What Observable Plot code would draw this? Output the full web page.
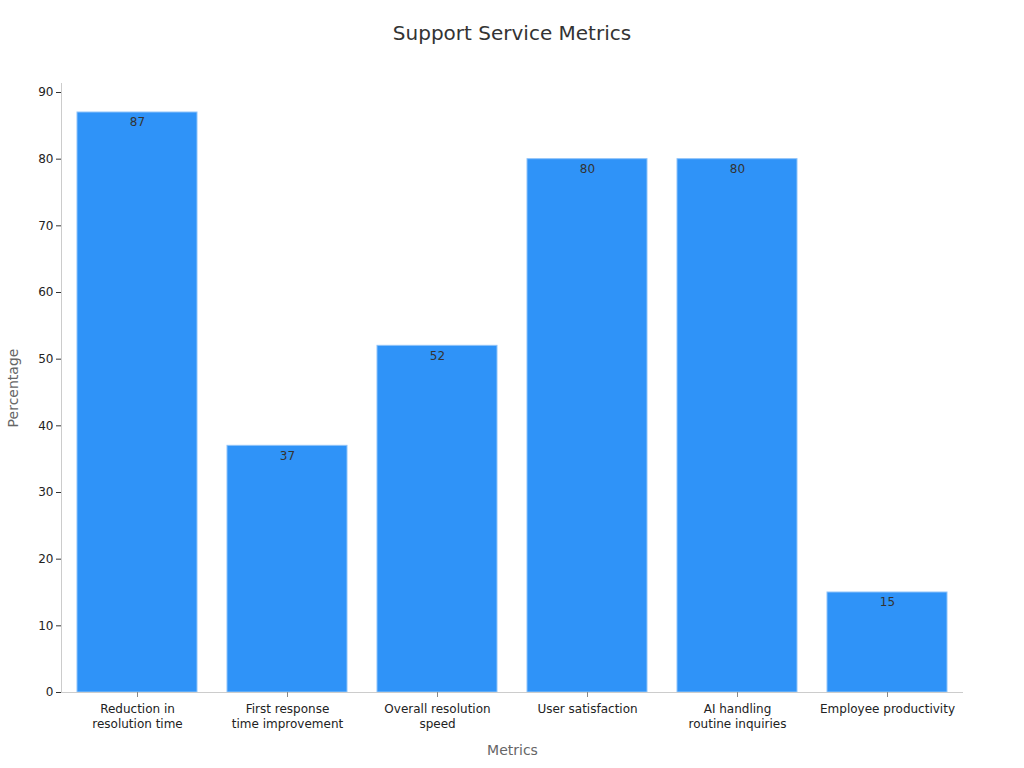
<!DOCTYPE html>
<html>
<head>
<meta charset="utf-8">
<script src="https://cdn.jsdelivr.net/npm/d3@7"></script>
<script src="https://cdn.jsdelivr.net/npm/@observablehq/plot@0.6"></script>
<style>
  html, body { margin: 0; padding: 0; background: #fff; }
  body { width: 1024px; height: 768px; overflow: hidden; font-family: "DejaVu Sans", sans-serif; }
  #title { height: 68px; line-height: 66px; text-align: center; font-size: 20px; color: #333; }
  #chart svg { display: block; }
</style>
</head>
<body>
<div id="title">Support Service Metrics</div>
<div id="chart"></div>
<script>
const categories = ["Reduction in resolution time", "First response time improvement", "Overall resolution speed", "User satisfaction", "AI handling routine inquiries", "Employee productivity"];
const tickLabels = ["Reduction in\nresolution time", "First response\ntime improvement", "Overall resolution\nspeed", "User satisfaction", "AI handling\nroutine inquiries", "Employee productivity"];
const values = [87, 37, 52, 80, 80, 15];
const yTicks = [0, 10, 20, 30, 40, 50, 60, 70, 80, 90];

const data = categories.map((c, i) => ({category: c, value: values[i], label: tickLabels[i]}));
const labelOf = new Map(categories.map((c, i) => [c, tickLabels[i]]));

const chart = Plot.plot({
  width: 1024,
  height: 700,
  marginLeft: 61,
  marginRight: 61,
  marginTop: 15,
  marginBottom: 76,
  style: {fontFamily: "DejaVu Sans, sans-serif", fontSize: "12px", color: "#222", background: "#fff"},
  x: {domain: categories, paddingInner: 0.2, paddingOuter: 0.1, label: null},
  y: {domain: [0, 91.35], label: null},
  marks: [
    Plot.barY(data, {x: "category", y: "value", fill: "#2f93f8", stroke: "#8fc4f9", strokeWidth: 1}),
    Plot.text(data, {x: "category", y: "value", text: d => String(d.value), dy: 10, fill: "#333", fontSize: 12}),
    Plot.ruleY([0], {stroke: "#cccccc"}),
    Plot.frame({anchor: "left", stroke: "#cccccc"}),
    Plot.axisY({ticks: yTicks, tickSize: 5, tickPadding: 3, stroke: "#333", fill: "#222", label: null}),
    Plot.axisX({tickSize: 5, stroke: "#888", fill: "#222", tickPadding: 5, tickFormat: d => labelOf.get(d), lineHeight: 1.25, label: null}),
    Plot.text(["Percentage"], {frameAnchor: "left", textAnchor: "middle", rotate: -90, dx: -48, fill: "#666", fontSize: 14}),
    Plot.text(["Metrics"], {frameAnchor: "bottom", dy: 62, fill: "#666", fontSize: 14})
  ]
});
document.getElementById("chart").appendChild(chart);
</script>
</body>
</html>
